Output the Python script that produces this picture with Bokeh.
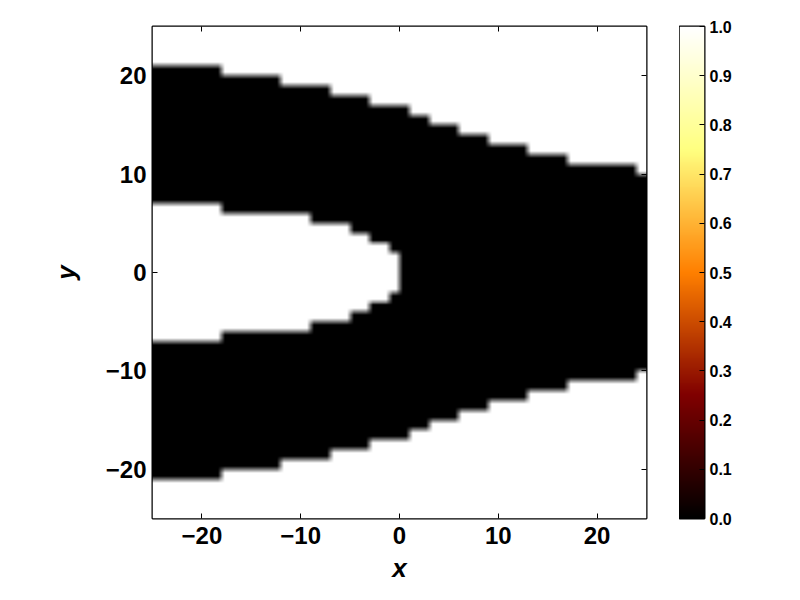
import numpy as np
from bokeh.plotting import figure
from bokeh.layouts import row
from bokeh.models import (LinearColorMapper, LinearAxis, FixedTicker,
                          Range1d, PrintfTickFormatter, CustomJSTickFormatter)
from bokeh.embed import file_html
from bokeh.resources import INLINE

# ---- data -------------------------------------------------------------
x_extent = [-25, 25]
y_extent = [-25, 25]
n_cells = 50

# black band: start x of each column segment and the band's half-height there
outer_x_start = [-25, -18, -12, -7, -3, 1, 3, 6, 9, 13, 17, 24]
outer_half = [21, 20, 19, 18, 17, 16, 15, 14, 13, 12, 11, 10]
# white hole inside the band (left side), start x of each segment and half-height
hole_x_start = [-25, -18, -9, -5, -3, -1]
hole_half = [7, 6, 5, 4, 3, 2]
hole_x_end = 0

x_ticks = [-20, -10, 0, 10, 20]
x_tick_labels = ["\u221220", "\u221210", "0", "10", "20"]
y_ticks = [-20, -10, 0, 10, 20]
y_tick_labels = ["\u221220", "\u221210", "0", "10", "20"]
cbar_range = [0.0, 1.0]
cbar_ticks = [0.0, 0.1, 0.2, 0.3, 0.4, 0.5, 0.6, 0.7, 0.8, 0.9, 1.0]

# ---- build the field from the boundary arrays --------------------------
cell = (x_extent[1] - x_extent[0]) / n_cells
xc = x_extent[0] + cell * (np.arange(n_cells) + 0.5)
yc = y_extent[0] + cell * (np.arange(n_cells) + 0.5)
field = np.ones((n_cells, n_cells))
for j, xv in enumerate(xc):
    oi = np.searchsorted(outer_x_start, xv, side="right") - 1
    band = np.abs(yc) < outer_half[oi]
    if xv < hole_x_end:
        hi = np.searchsorted(hole_x_start, xv, side="right") - 1
        band &= ~(np.abs(yc) < hole_half[hi])
    field[band, j] = 0.0

# afmhot palette
t = np.linspace(0, 1, 256)
cm_rgb = np.stack([np.clip(2 * t, 0, 1), np.clip(2 * t - 0.5, 0, 1), np.clip(2 * t - 1, 0, 1)], axis=1)
palette = ["#%02x%02x%02x" % tuple(int(round(c * 255)) for c in rw) for rw in cm_rgb]
mapper = LinearColorMapper(palette=palette, low=cbar_range[0], high=cbar_range[1])

# colour-map the cells first, then resample the RGB raster (soft edges)
idx = np.clip((field * 255).round().astype(int), 0, 255)
rgb = cm_rgb[idx]
up = 10
fine = np.repeat(np.repeat(rgb, up, axis=0), up, axis=1)
k = 7
kern = np.ones(k) / k
pad = np.pad(fine, ((k // 2, k // 2), (k // 2, k // 2), (0, 0)), mode="edge")
tmp = np.apply_along_axis(lambda r: np.convolve(r, kern, mode="valid"), 1, pad)
fine = np.apply_along_axis(lambda c: np.convolve(c, kern, mode="valid"), 0, tmp)
nfy, nfx = fine.shape[:2]
img = np.empty((nfy, nfx), dtype=np.uint32)
view = img.view(dtype=np.uint8).reshape((nfy, nfx, 4))
view[:, :, :3] = np.clip(np.round(fine * 255), 0, 255).astype(np.uint8)
view[:, :, 3] = 255

FONT = "Liberation Sans"
TOP, BOTTOM = 26, 80

# ---- main plot -------------------------------------------------------
p = figure(frame_width=494, frame_height=492,
           x_range=Range1d(*x_extent), y_range=Range1d(*y_extent),
           output_backend="svg", toolbar_location=None,
           min_border_left=152, min_border_top=TOP, min_border_bottom=BOTTOM, min_border_right=33)
p.image_rgba(image=[img], x=x_extent[0], y=y_extent[0], dw=x_extent[1] - x_extent[0],
             dh=y_extent[1] - y_extent[0])

p.xgrid.visible = False
p.ygrid.visible = False
p.outline_line_color = "black"
p.outline_line_width = 2
p.background_fill_color = "white"
p.border_fill_color = "white"

js = "const i = tick_vals.indexOf(tick); return i >= 0 ? tick_labs[i] : '';"
fmt_x = CustomJSTickFormatter(args=dict(tick_vals=x_ticks, tick_labs=x_tick_labels), code=js)
fmt_y = CustomJSTickFormatter(args=dict(tick_vals=y_ticks, tick_labs=y_tick_labels), code=js)

for ax, tk, fm in ((p.xaxis[0], x_ticks, fmt_x), (p.yaxis[0], y_ticks, fmt_y)):
    ax.ticker = FixedTicker(ticks=tk)
    ax.formatter = fm
    ax.major_tick_in = 5
    ax.major_tick_out = 0
    ax.minor_tick_line_color = None
    ax.axis_line_color = None
    ax.major_tick_line_color = "black"
    ax.major_label_text_font = FONT
    ax.major_label_text_font_style = "bold"
    ax.major_label_text_font_size = "24px"
    ax.major_label_text_color = "black"
    ax.axis_label_text_font = FONT
    ax.axis_label_text_font_style = "bold italic"
    ax.axis_label_text_font_size = "26px"
    ax.axis_label_text_color = "black"

p.xaxis[0].axis_label = "x"
p.yaxis[0].axis_label = "y"
p.xaxis[0].major_label_standoff = 8
p.yaxis[0].major_label_standoff = 6
p.xaxis[0].axis_label_standoff = 6
p.yaxis[0].axis_label_standoff = 22

# mirrored tick marks on top and right (no labels drawn)
for loc, tk in (("above", x_ticks), ("right", y_ticks)):
    ax = LinearAxis(ticker=FixedTicker(ticks=tk))
    ax.major_tick_in = 5
    ax.major_tick_out = 0
    ax.minor_tick_line_color = None
    ax.axis_line_color = None
    ax.major_label_text_font_size = "8px"
    ax.major_label_text_color = None
    ax.major_label_standoff = 0
    p.add_layout(ax, loc)

# ---- colour bar as its own small plot ---------------------------------
cb = figure(frame_width=25, frame_height=492,
            x_range=Range1d(0, 1), y_range=Range1d(*cbar_range),
            output_backend="svg", toolbar_location=None,
            x_axis_location=None, y_axis_location="right",
            min_border_left=0, min_border_top=TOP, min_border_bottom=BOTTOM, min_border_right=60)
grad = np.linspace(cbar_range[0], cbar_range[1], 256).reshape(256, 1)
cb.image(image=[grad], x=0, y=cbar_range[0], dw=1, dh=cbar_range[1] - cbar_range[0],
         color_mapper=mapper)
cb.xgrid.visible = False
cb.ygrid.visible = False
cb.outline_line_color = "black"
cb.outline_line_width = 2
cb.border_fill_color = "white"
cax = cb.yaxis[0]
cax.ticker = FixedTicker(ticks=cbar_ticks)
cax.formatter = PrintfTickFormatter(format="%.1f")
cax.major_tick_in = 5
cax.major_tick_out = 0
cax.minor_tick_line_color = None
cax.axis_line_color = None
cax.major_tick_line_color = "black"
cax.major_label_standoff = 5
cax.major_label_text_font = FONT
cax.major_label_text_font_style = "bold"
cax.major_label_text_font_size = "16px"
cax.major_label_text_color = "black"

layout = row(p, cb)
open("out.html", "w").write(file_html(layout, INLINE))
